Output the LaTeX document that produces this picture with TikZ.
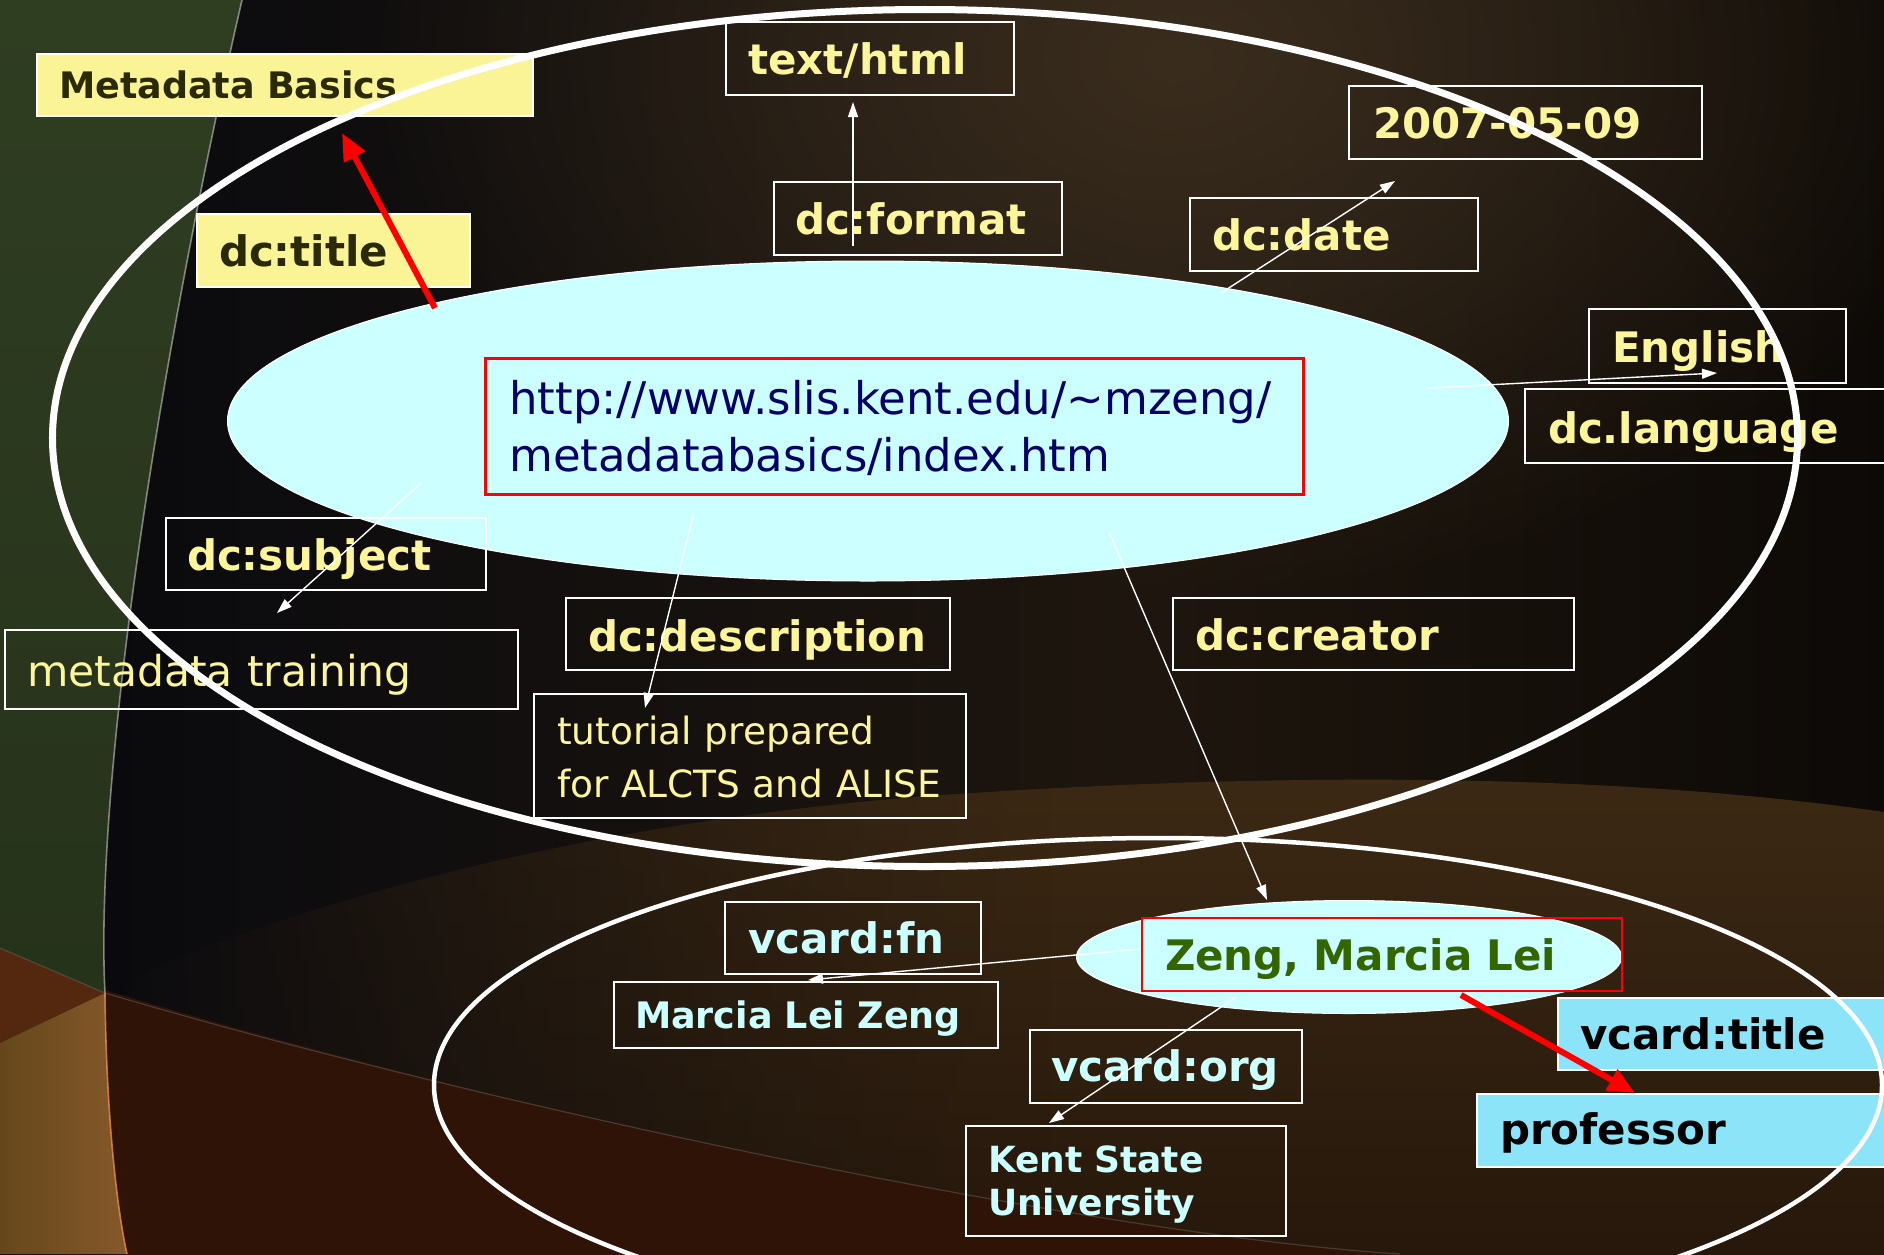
\documentclass[tikz,border=0pt]{standalone}
\usepackage{fontspec}
\setmainfont{DejaVu Sans}
\usetikzlibrary{shapes.geometric, arrows.meta, fadings}

% palette
\definecolor{bgA}{HTML}{08090E}
\definecolor{bgB}{HTML}{1E160E}
\definecolor{bgC}{HTML}{030202}
\definecolor{glowc}{HTML}{3A2D1E}
\definecolor{bandtop}{HTML}{3C2914}
\definecolor{bandbot}{HTML}{24160A}
\definecolor{lowred}{HTML}{2E1306}
\definecolor{greenA}{HTML}{2F3D21}
\definecolor{greenB}{HTML}{26331B}
\definecolor{redbrown}{HTML}{54280F}
\definecolor{orangeA}{HTML}{65471C}
\definecolor{orangeB}{HTML}{86592A}
\definecolor{ylwfill}{HTML}{FBF496}
\definecolor{darktxt}{HTML}{2A2A08}
\definecolor{ylwtxt}{HTML}{FCF59A}
\definecolor{cyanfill}{HTML}{CCFFFF}
\definecolor{navy}{HTML}{000066}
\definecolor{zenggreen}{HTML}{336600}
\definecolor{bluefill}{HTML}{8CE4F8}

\tikzfading[name=glowfade, inner color=transparent!0, outer color=transparent!100]
\tikzfading[name=bandfade, left color=transparent!100, right color=transparent!0, middle color=transparent!0]

\tikzset{
  lbl/.style={rectangle, anchor=north west, inner ysep=0pt, align=left, draw=white, line width=2bp},
  tbold/.style={font=\fontsize{42bp}{50bp}\selectfont\bfseries},
  tsmall/.style={font=\fontsize{36.5bp}{42.4bp}\selectfont\bfseries},
  ylw/.style={text=ylwtxt},
  cyt/.style={text=cyanfill},
  ybox/.style={fill=ylwfill, text=darktxt},
  bbox/.style={fill=bluefill, text=black},
  ring/.style={ellipse, draw=white, inner sep=0pt},
  thinarrow/.style={draw=white, line width=1.4bp, -{Triangle[length=15bp, width=10bp]}},
  redarrow/.style={draw=red, line width=6bp, -{Triangle[length=27bp, width=23bp]}}
}

\begin{document}
\begin{tikzpicture}[x=1bp, y=-1bp]
\useasboundingbox (0,0) rectangle (1884,1254);
\clip (0,0) rectangle (1884,1254);

% ---- backdrop ----
\shade[left color=bgA, right color=bgC, middle color=bgB] (0,0) rectangle (2300,1254);
\fill[glowc, path fading=glowfade] (1180,60) ellipse (820 and 540);
\shade[top color=bandtop, bottom color=bandbot, path fading=bandfade]
  (105,990) .. controls (300,900) and (600,820) .. (942,795)
  .. controls (1300,770) and (1700,770) .. (2000,830)
  -- (2000,1300) -- (1400,1300) -- (1400,1254) .. controls (1100,1235) and (500,1110) .. (105,990) -- cycle;
\fill[lowred] (105,990) .. controls (500,1110) and (1100,1235) .. (1400,1254)
  -- (1400,1300) -- (127,1300) -- (127,1254) .. controls (115,1200) and (106,1100) .. (105,990) -- cycle;
\shade[top color=greenA, bottom color=greenB]
  (0,0) -- (242,0) .. controls (150,400) and (95,800) .. (105,993) -- (0,948) -- cycle;
\fill[redbrown] (0,948) -- (105,993) -- (0,1043) -- cycle;
\shade[left color=orangeA, right color=orangeB]
  (0,1043) -- (105,993) .. controls (106,1100) and (115,1200) .. (127,1254) -- (0,1254) -- cycle;
\draw[white!55!gray, line width=1.6bp, opacity=.6]
  (242,0) .. controls (150,400) and (95,800) .. (105,993);
\draw[orange!60!pink, line width=1.6bp, opacity=.7]
  (105,993) .. controls (106,1100) and (115,1200) .. (127,1254);
\draw[gray, line width=1.2bp, opacity=.35]
  (0,948) -- (105,993) .. controls (500,1110) and (1100,1235) .. (1400,1254);

% ---- resource and person ----
\node[ellipse, fill=cyanfill, draw=white, line width=1bp, inner sep=0pt,
      minimum width=1281bp, minimum height=320bp] (res) at (868,421) {};
\node[ellipse, fill=cyanfill, draw=white, line width=1bp, inner sep=0pt,
      minimum width=545bp, minimum height=113bp] (person) at (1349,957) {};

% ---- labels and values ----
\node[lbl, ybox, tsmall, inner xsep=22bp, text width=452bp, text height=44bp, text depth=18bp]
  (meta) at (36,53) {Metadata Basics};
\node[lbl, ybox, tbold, inner xsep=22bp, text width=229bp, text height=52bp, text depth=21bp]
  (title) at (196,213) {dc:title};
\node[lbl, ylw, tbold, inner xsep=22bp, text width=244bp, text height=52bp, text depth=21bp]
  (html) at (725,21) {text/html};
\node[lbl, ylw, tbold, inner xsep=21bp, text width=246bp, text height=52bp, text depth=21bp]
  (format) at (773,181) {dc:format};
\node[lbl, ylw, tbold, inner xsep=24bp, text width=305bp, text height=52bp, text depth=21bp]
  (dateval) at (1348,85) {2007-05-09};
\node[lbl, ylw, tbold, inner xsep=22bp, text width=244bp, text height=52bp, text depth=21bp]
  (date) at (1189,197) {dc:date};
\node[lbl, ylw, tbold, inner xsep=23bp, text width=211bp, text height=53bp, text depth=21bp]
  (english) at (1588,308) {English};
\node[lbl, ylw, tbold, inner xsep=23bp, text width=374bp, text height=54bp, text depth=20bp]
  (lang) at (1524,388) {dc.language};
\node[lbl, draw=red, line width=2.5bp, text=navy, font=\fontsize{45bp}{57bp}\selectfont,
      inner xsep=24bp, text width=770bp, text height=56bp, text depth=80bp]
  (url) at (484,357) {\mbox{http://www.slis.kent.edu/\textasciitilde mzeng/}\\metadatabasics/index.htm};
\node[lbl, ylw, tbold, inner xsep=21bp, text width=278bp, text height=52bp, text depth=20bp]
  (subject) at (165,517) {dc:subject};
\node[lbl, ylw, font=\fontsize{42.5bp}{50bp}\selectfont, inner xsep=22bp, text width=469bp,
      text height=56bp, text depth=23bp]
  (training) at (4,629) {\mbox{metadata training}};
\node[lbl, ylw, tbold, inner xsep=22bp, text width=340bp, text height=53bp, text depth=19bp]
  (descr) at (565,597) {dc:description};
\node[lbl, ylw, font=\fontsize{37.5bp}{53bp}\selectfont, inner xsep=23bp, text width=386bp,
      text height=50bp, text depth=73.5bp]
  (tutorial) at (533,693) {\mbox{tutorial prepared}\\\mbox{for ALCTS and ALISE}};
\node[lbl, ylw, tbold, inner xsep=22bp, text width=357bp, text height=52bp, text depth=20bp]
  (creator) at (1172,597) {dc:creator};

\node[lbl, cyt, tbold, inner xsep=23bp, text width=210bp, text height=51bp, text depth=21bp]
  (fn) at (724,901) {vcard:fn};
\node[lbl, cyt, tsmall, inner xsep=21bp, text width=342bp, text height=46bp, text depth=20bp]
  (fullname) at (613,981) {\mbox{Marcia Lei Zeng}};
\node[lbl, draw=red, line width=2bp, text=zenggreen, tbold, inner xsep=23bp, text width=434bp,
      text height=52bp, text depth=21bp]
  (zeng) at (1141,917) {\mbox{Zeng, Marcia Lei}};
\node[lbl, bbox, tbold, inner xsep=22bp, text width=356bp, text height=51bp, text depth=21bp]
  (vtitle) at (1557,997) {vcard:title};
\node[lbl, bbox, tbold, inner xsep=23bp, text width=374bp, text height=50.5bp, text depth=22.5bp]
  (prof) at (1476,1093) {professor};
\node[lbl, cyt, tbold, inner xsep=21bp, text width=230bp, text height=51bp, text depth=22bp]
  (org) at (1029,1029) {vcard:org};
\node[lbl, cyt, font=\fontsize{36bp}{42.4bp}\selectfont\bfseries, inner xsep=22bp,
      text width=276bp, text height=46.7bp, text depth=63.3bp]
  (kent) at (965,1125) {Kent State\\University};

% ---- description rings ----
\node[ring, line width=7bp, minimum width=1745bp, minimum height=857bp] (docring) at (925,438) {};
\node[ring, line width=4.5bp, minimum width=1448bp, minimum height=494bp] (personring) at (1158,1085) {};

% ---- connector ends ----
\coordinate (titleA) at (435,308);   \coordinate (titleB) at (342,133);
\coordinate (fmtA) at (853,246);     \coordinate (fmtB) at (853,102);
\coordinate (dateA) at (1221,293);   \coordinate (dateB) at (1395,181);
\coordinate (langA) at (1428,388);   \coordinate (langB) at (1717,373);
\coordinate (subjA) at (421,483);    \coordinate (subjB) at (277,613);
\coordinate (descA) at (693,516);    \coordinate (descB) at (645,708);
\coordinate (creatA) at (1109,532);  \coordinate (creatB) at (1267,900);
\coordinate (fnA) at (1140,949);     \coordinate (fnB) at (808,980);
\coordinate (orgA) at (1236,997);    \coordinate (orgB) at (1049,1123);
\coordinate (vtA) at (1461,995);     \coordinate (vtB) at (1635,1093);

% ---- connectors ----
\draw[thinarrow] (fmtA) -- (fmtB);
\draw[thinarrow] (dateA) -- (dateB);
\draw[thinarrow] (langA) -- (langB);
\draw[thinarrow] (subjA) -- (subjB);
\draw[thinarrow] (descA) -- (descB);
\draw[thinarrow] (creatA) -- (creatB);
\draw[thinarrow] (fnA) -- (fnB);
\draw[thinarrow] (orgA) -- (orgB);
\draw[redarrow] (titleA) -- (titleB);
\draw[redarrow] (vtA) -- (vtB);
\end{tikzpicture}
\end{document}
